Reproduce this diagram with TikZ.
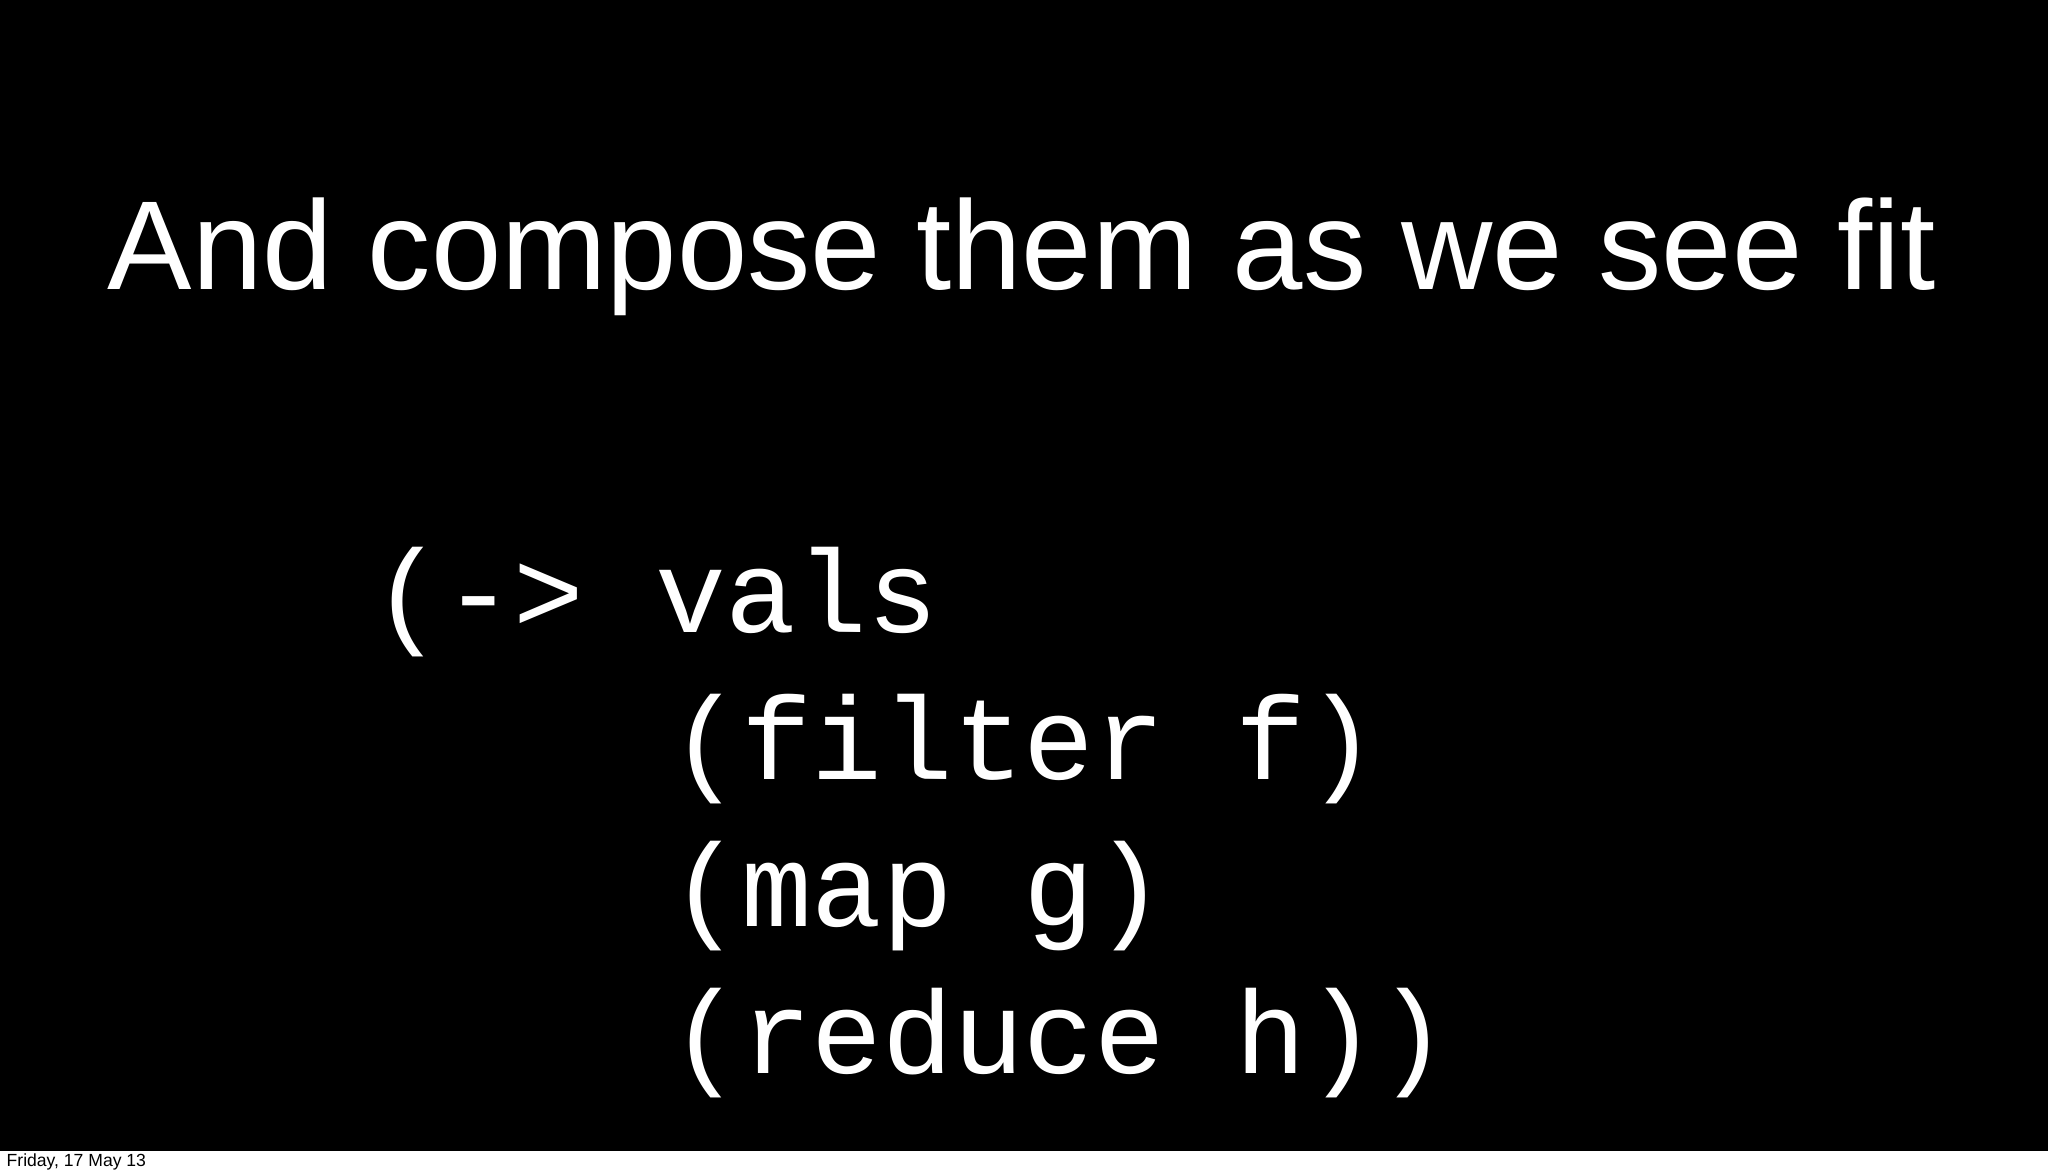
\documentclass[tikz,border=0pt]{standalone}
\usepackage{fontspec}
\setmainfont{Liberation Sans}
\newfontfamily\codefont{Liberation Mono}
\tikzset{
  title/.style={anchor=base, text=white, font=\fontsize{36}{40}\selectfont},
  code/.style={anchor=base west, text=white, inner sep=0pt, font=\codefont\fontsize{33.5}{36}\selectfont},
}
\begin{document}
\begin{tikzpicture}
      \useasboundingbox (0,0) rectangle (20.48,11.73);
      \fill[white] (0,0) rectangle (20.48,11.73);
      \fill[black] (0,0.22) rectangle (20.48,11.73);
      % slide title
      \node[title] (head) at (10.22, 8.83) {And compose them as we see fit};
      % threading form
      \node[code] (thread) at (3.72, 5.40) {(->\ vals};
      \node[code] (filt) at (6.70, 3.93) {(filter f)};
      \node[code] (mapg) at (6.70, 2.46) {(map g)};
      \node[code] (redh) at (6.70, 0.99) {(reduce h))};
      % footer
      \node[anchor=base west, inner sep=0pt, font=\fontsize{5}{6}\selectfont] (date) at (0.06, 0.06) {Friday, 17 May 13};
    \end{tikzpicture}
\end{document}
